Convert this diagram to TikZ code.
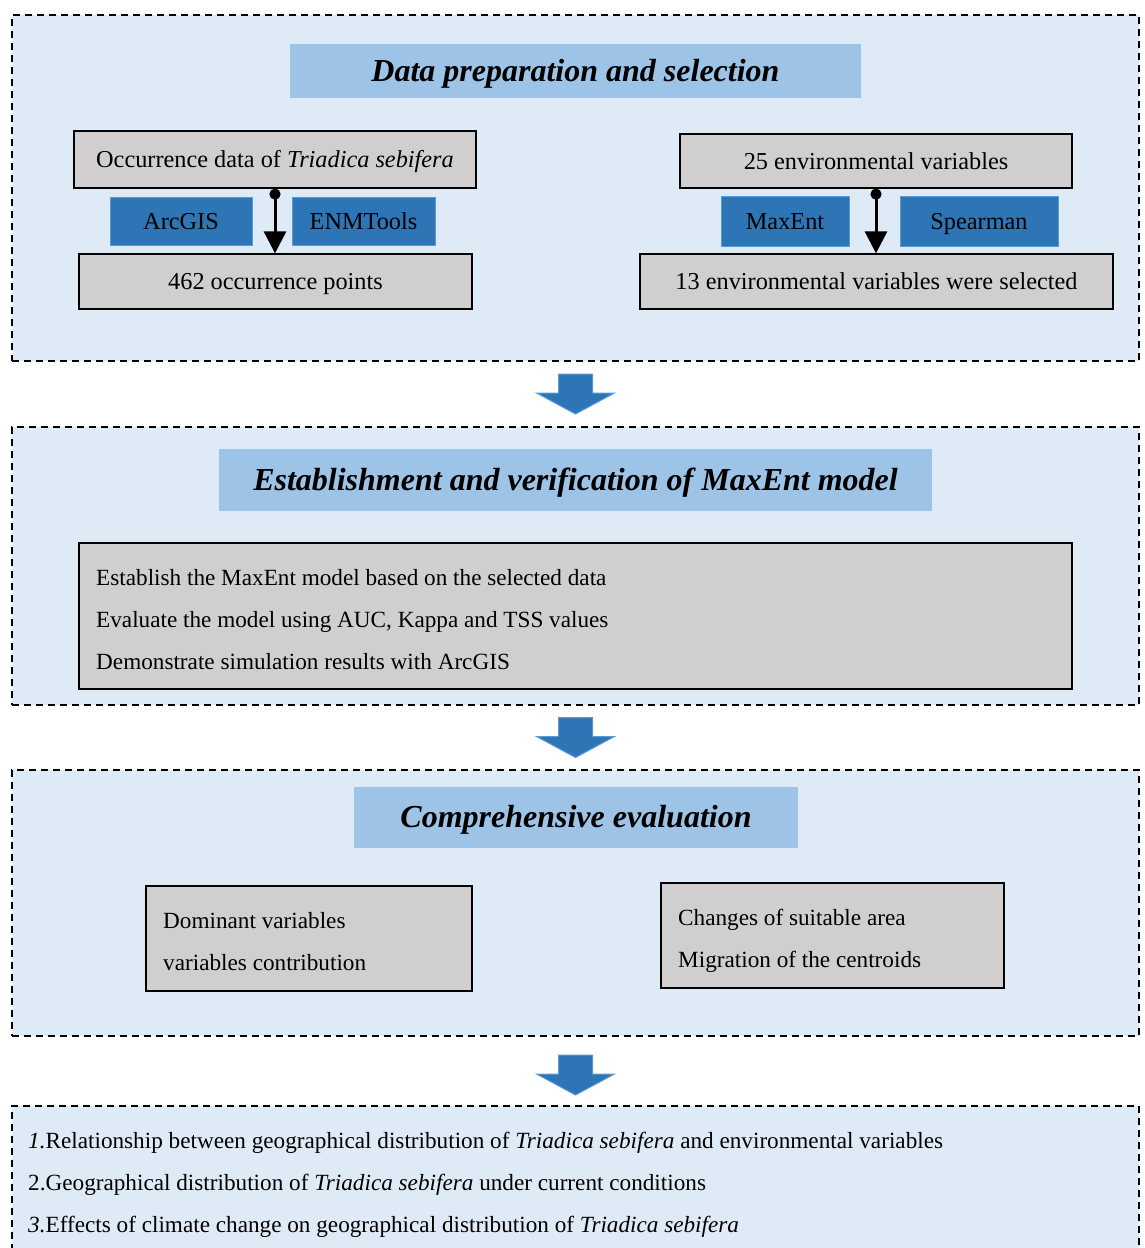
\documentclass[tikz,border=0pt]{standalone}
\usepackage{fontspec}
\setmainfont{Liberation Serif}
\usetikzlibrary{calc}
\usetikzlibrary{arrows.meta}
\definecolor{panelblue}{HTML}{DEEAF6}
\definecolor{titleblue}{HTML}{9DC3E6}
\definecolor{toolblue}{HTML}{2E75B6}
\definecolor{tooledge}{HTML}{5B9BD5}
\definecolor{boxgray}{HTML}{D0CECE}
\def\labelsize{\fontsize{24.3}{28}\selectfont}
\def\bodysize{\fontsize{23.2}{27}\selectfont}
\def\titlesize{\fontsize{32}{37}\selectfont\bfseries\itshape}
\def\species{\textit{Triadica sebifera}}

\begin{document}
\begin{tikzpicture} [x = 1 pt, y = -1 pt,
    panel/.style = {draw, line width = 1.5pt, dash pattern = on 7pt off 5pt,
      fill = panelblue, inner sep = 0pt},
    titlebox/.style = {fill = titleblue, inner sep = 0pt, font = \titlesize,
      text height = 22pt, text depth = 2pt},
    graybox/.style = {draw, line width = 1.3pt, fill = boxgray,
      inner sep = 0pt, font = \labelsize, text height = 16pt, text depth = 0pt},
    toolbox/.style = {draw = tooledge, line width = 1pt, fill = toolblue,
      inner sep = 0pt, font = \labelsize, text height = 16pt, text depth = 0pt},
    line/.style = {anchor = west, inner sep = 0pt, font = \bodysize,
      text height = 16pt, text depth = 0pt},
    bigarrow/.style = {fill = toolblue, draw = tooledge, line width = 1pt,
      line join = miter}]
    \clip (0, 0) rectangle (1144, 1248);
    \fill[white] (0, 0) rectangle (1144, 1248);

    % data preparation
    \node[panel, minimum width = 1127pt, minimum height = 346pt] (prep)
      at (575.5, 188) {};
    \node[titlebox, minimum width = 571pt, minimum height = 54pt] (t1)
      at (575.5, 71) {Data preparation and selection};
    \node[graybox, minimum width = 402pt, minimum height = 57pt] (occ)
      at (275, 159.5) {Occurrence data of \species};
    \node[toolbox, minimum width = 142pt, minimum height = 48pt] (arcgis)
      at (181, 221) {ArcGIS};
    \node[toolbox, minimum width = 143pt, minimum height = 48pt] (enm)
      at (363.5, 221) {ENMTools};
    \node[graybox, minimum width = 393pt, minimum height = 55pt] (pts)
      at (275.5, 281.5) {462 occurrence points};
    \node[graybox, minimum width = 392pt, minimum height = 54pt] (env)
      at (876, 161) {25 environmental variables};
    \node[toolbox, minimum width = 128pt, minimum height = 50pt] (maxent)
      at (785, 221) {MaxEnt};
    \node[toolbox, minimum width = 158pt, minimum height = 50pt] (spear)
      at (979, 221) {Spearman};
    \node[graybox, minimum width = 473pt, minimum height = 55pt] (sel)
      at (876.5, 281.5) {13 environmental variables were selected};

    \draw[line width = 3pt, {Circle[length = 11pt]}-{Triangle[length = 22pt, width = 22pt]}]
      (occ.south) -- (occ.south |- pts.north);
    \draw[line width = 3pt, {Circle[length = 11pt]}-{Triangle[length = 22pt, width = 22pt]}]
      (env.south) -- (env.south |- sel.north);

    % model
    \node[panel, minimum width = 1127pt, minimum height = 278pt] (model)
      at (575.5, 566) {};
    \node[titlebox, minimum width = 713pt, minimum height = 62pt] (t2)
      at (575.5, 480) {Establishment and verification of MaxEnt model};
    \node[graybox, minimum width = 993pt, minimum height = 146pt] (steps)
      at (575.5, 616) {};
    \node[line] (s1) at (96, 577) {Establish the MaxEnt model based on the selected data};
    \node[line] (s2) at (96, 619) {Evaluate the model using AUC, Kappa and TSS values};
    \node[line] (s3) at (96, 661) {Demonstrate simulation results with ArcGIS};

    % evaluation
    \node[panel, minimum width = 1127pt, minimum height = 266pt] (evalp)
      at (575.5, 903) {};
    \node[titlebox, minimum width = 444pt, minimum height = 61pt] (t3)
      at (576, 817.5) {Comprehensive evaluation};
    \node[graybox, minimum width = 326pt, minimum height = 105pt] (dom)
      at (309, 938.5) {};
    \node[line] (d1) at (163, 920) {Dominant variables};
    \node[line] (d2) at (163, 962) {variables contribution};
    \node[graybox, minimum width = 343pt, minimum height = 105pt] (chg)
      at (832.5, 935.5) {};
    \node[line] (c1) at (678, 917) {Changes of suitable area};
    \node[line] (c2) at (678, 959) {Migration of the centroids};

    % outcome
    \node[panel, minimum width = 1127pt, minimum height = 164pt] (out)
      at (575.5, 1188) {};
    \node[line] (o1) at (28, 1140)
      {\textit{1.}Relationship between geographical distribution of \species{} and environmental variables};
    \node[line] (o2) at (28, 1182)
      {2.Geographical distribution of \species{} under current conditions};
    \node[line] (o3) at (28, 1224)
      {\textit{3.}Effects of climate change on geographical distribution of \species};

    % block arrows between panels
    \coordinate (g1) at ($(prep.south)!0.5!(model.north)$);
    \coordinate (g2) at ($(model.south)!0.5!(evalp.north)$);
    \coordinate (g3) at ($(evalp.south)!0.5!(out.north) + (0, 4)$);
    \foreach \g in {g1, g2, g3}
      \draw[bigarrow] (\g) ++(-17, -20) -- ++(34, 0) -- ++(0, 19)
        -- ++(22, 0) -- ++(-39, 21) -- ++(-39, -21) -- ++(22, 0) -- cycle;
  \end{tikzpicture}
\end{document}
